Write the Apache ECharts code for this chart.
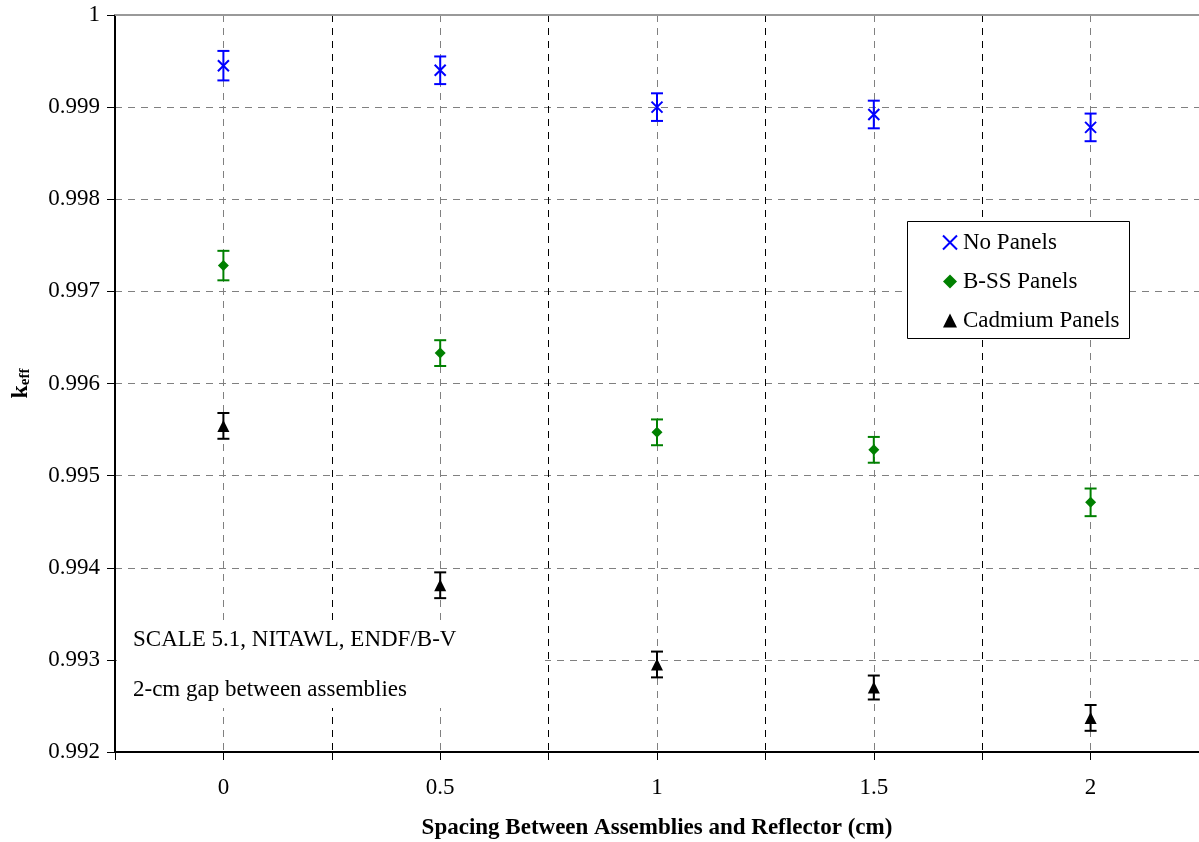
<!DOCTYPE html>
<html><head><meta charset="utf-8">
<script src="https://cdn.jsdelivr.net/npm/echarts@6/dist/echarts.min.js"></script>
<style>html,body{margin:0;padding:0;background:#fff}#c{width:1199px;height:842px}</style>
</head><body><div id="c"></div>
<script>
const spacing = [0, 0.5, 1, 1.5, 2];
const noPanels = [0.99945, 0.99940, 0.99900, 0.99892, 0.99878];
const noPanelsErr = [0.00016, 0.00015, 0.00015, 0.00015, 0.00015];
const bssPanels = [0.99728, 0.99633, 0.99547, 0.99528, 0.99471];
const bssPanelsErr = [0.00016, 0.00014, 0.00014, 0.00014, 0.00015];
const cadmiumPanels = [0.99554, 0.99381, 0.99295, 0.99270, 0.99237];
const cadmiumPanelsErr = [0.00014, 0.00014, 0.00014, 0.00013, 0.00014];
const yTicks = [0.992, 0.993, 0.994, 0.995, 0.996, 0.997, 0.998, 0.999, 1];
const annotations = ['SCALE 5.1, NITAWL, ENDF/B-V', '2-cm gap between assemblies'];

const FONT = '"Liberation Serif", "Times New Roman", serif';
const chart = echarts.init(document.getElementById('c'), null, {renderer: 'canvas'});

function pts(vals) { return vals.map((v, i) => [spacing[i], v]); }
function errData(vals, errs) { return vals.map((v, i) => [spacing[i], v - errs[i], v + errs[i]]); }
function errSeries(vals, errs, color) {
  return {
    type: 'custom', silent: true, z: 3,
    renderItem: function (params, api) {
      const x = api.value(0);
      const lo = api.coord([x, api.value(1)]);
      const hi = api.coord([x, api.value(2)]);
      const hw = 6;
      const st = {stroke: color, lineWidth: 2};
      return {type: 'group', children: [
        {type: 'line', shape: {x1: lo[0], y1: lo[1], x2: hi[0], y2: hi[1]}, style: st},
        {type: 'line', shape: {x1: lo[0] - hw, y1: lo[1], x2: lo[0] + hw, y2: lo[1]}, style: st},
        {type: 'line', shape: {x1: hi[0] - hw, y1: hi[1], x2: hi[0] + hw, y2: hi[1]}, style: st}
      ]};
    },
    encode: {x: 0, y: [1, 2]},
    data: errData(vals, errs)
  };
}

const option = {
  animation: false,
  backgroundColor: '#fff',
  grid: {left: 115, right: 0, top: 15, bottom: 90, containLabel: false, outerBoundsMode: 'none'},
  xAxis: [{
    type: 'value', min: -0.25, max: 2.25, interval: 0.25,
    name: 'Spacing Between Assemblies and Reflector (cm)',
    nameLocation: 'middle', nameGap: 65,
    nameTextStyle: {fontFamily: FONT, fontWeight: 'bold', fontSize: 23, color: '#000'},
    axisLine: {show: true, onZero: false, lineStyle: {color: '#000', width: 2}},
    axisTick: {show: true, length: 8, lineStyle: {color: '#000', width: 1}},
    axisLabel: {
      fontFamily: FONT, fontSize: 23, color: '#000', margin: 24,
      formatter: function (v) {
        const r = Math.round(v * 100) / 100;
        return (Math.abs(r * 2 - Math.round(r * 2)) < 1e-6 && r >= 0) ? String(r) : '';
      }
    },
    splitLine: {show: true, showMinLine: false, showMaxLine: false,
      lineStyle: {color: ['#808080', '#000'], type: [7, 6], width: 1}}
  }, {
    type: 'value', position: 'top', min: -0.25, max: 2.25,
    axisLine: {show: true, onZero: false, lineStyle: {color: '#999', width: 2}},
    axisTick: {show: false}, axisLabel: {show: false}, splitLine: {show: false}
  }],
  yAxis: {
    type: 'value', min: 0.992, max: 1, interval: 0.001,
    name: '{k|k}{s|eff}', nameLocation: 'middle', nameGap: 82, nameRotate: 90,
    nameTextStyle: {rich: {
      k: {fontFamily: FONT, fontWeight: 'bold', fontSize: 24, color: '#000'},
      s: {fontFamily: FONT, fontWeight: 'bold', fontSize: 15, color: '#000', verticalAlign: 'bottom', padding: [9, 0, 0, 0]}
    }},
    axisLine: {show: true, onZero: false, lineStyle: {color: '#000', width: 2}},
    axisTick: {show: true, length: 8, lineStyle: {color: '#000', width: 1}},
    axisLabel: {fontFamily: FONT, fontSize: 23, color: '#000', margin: 15,
      formatter: function (v) { return String(Math.round(v * 1000) / 1000); }},
    splitLine: {show: true, showMaxLine: false, lineStyle: {color: '#808080', type: [7, 6], width: 1}}
  },
  legend: {
    show: true, orient: 'vertical', left: 937, top: 226, itemGap: 16, z: 4,
    itemWidth: 14, itemHeight: 14,
    textStyle: {fontFamily: FONT, fontSize: 23, color: '#000', padding: [0, 0, 0, 1]},
    data: ['No Panels', 'B-SS Panels', 'Cadmium Panels']
  },
  graphic: [
    {type: 'rect', left: 907, top: 221, shape: {width: 222, height: 117}, z: 1,
      style: {fill: '#fff', stroke: '#000', lineWidth: 1}},
    {type: 'rect', left: 117, top: 622, shape: {width: 428, height: 86}, z: 1,
      style: {fill: '#fff'}},
    {type: 'text', left: 133, top: 628, z: 10,
      style: {text: annotations[0], font: '23px ' + FONT, fill: '#000'}},
    {type: 'text', left: 133, top: 678, z: 10,
      style: {text: annotations[1], font: '23px ' + FONT, fill: '#000'}}
  ],
  series: [
    errSeries(noPanels, noPanelsErr, '#0000ff'),
    errSeries(bssPanels, bssPanelsErr, '#008000'),
    errSeries(cadmiumPanels, cadmiumPanelsErr, '#000000'),
    {name: 'No Panels', type: 'scatter', z: 5, data: pts(noPanels),
      symbol: 'path://M0,0L10,10M10,0L0,10', symbolSize: 11,
      itemStyle: {color: 'rgba(0,0,0,0)', borderColor: '#0000ff', borderWidth: 2, opacity: 1}},
    {name: 'B-SS Panels', type: 'scatter', z: 5, data: pts(bssPanels),
      symbol: 'diamond', symbolSize: 11, itemStyle: {color: '#008000', opacity: 1}},
    {name: 'Cadmium Panels', type: 'scatter', z: 5, data: pts(cadmiumPanels),
      symbol: 'triangle', symbolSize: 12, itemStyle: {color: '#000000', opacity: 1}}
  ]
};
chart.setOption(option);
</script></body></html>
